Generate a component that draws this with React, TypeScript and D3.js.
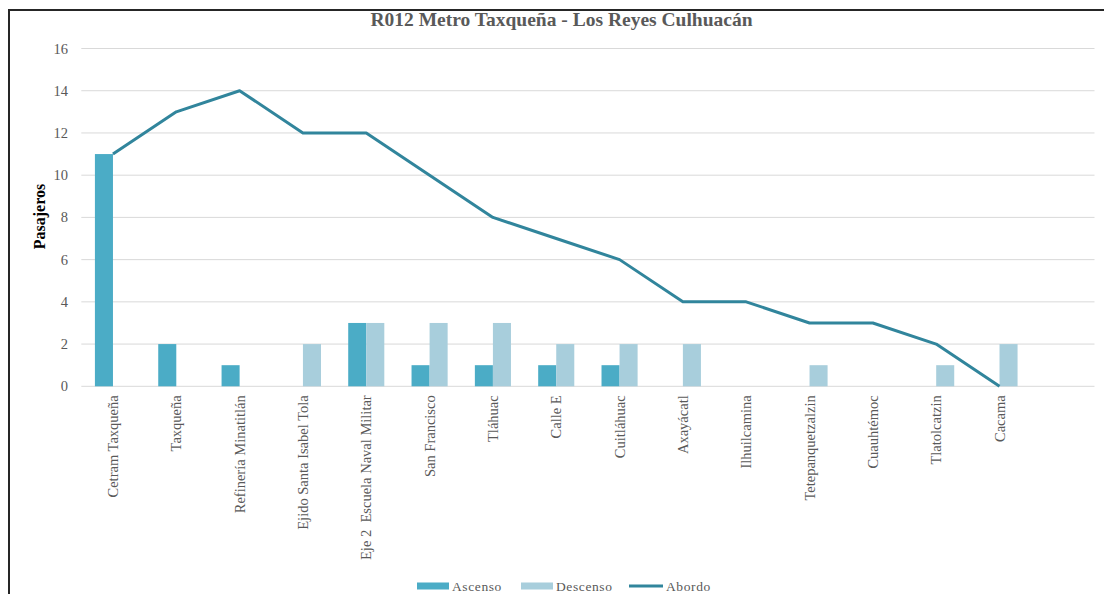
import { useEffect, useRef } from 'react'
import * as d3 from 'd3'

const categories = [
  'Cetram Taxqueña',
  'Taxqueña',
  'Refinería Minatitlán',
  'Ejido Santa Isabel Tola',
  'Eje 2  Escuela Naval Militar',
  'San Francisco',
  'Tláhuac',
  'Calle E',
  'Cuitláhuac',
  'Axayácatl',
  'Ilhuilcamina',
  'Tetepanquetzalzin',
  'Cuauhtémoc',
  'Tlatolcatzin',
  'Cacama'
]
const ascenso = [11, 2, 1, 0, 3, 1, 1, 1, 1, 0, 0, 0, 0, 0, 0]
const descenso = [0, 0, 0, 2, 3, 3, 3, 2, 2, 2, 0, 1, 0, 1, 2]
const abordo = [11, 13, 14, 12, 12, 10, 8, 7, 6, 4, 4, 3, 3, 2, 0]
const yTicks = [0, 2, 4, 6, 8, 10, 12, 14, 16]

const title = 'R012 Metro Taxqueña - Los Reyes Culhuacán'
const seriesNames = ['Ascenso', 'Descenso']
const colors = { Ascenso: '#4BACC6', Descenso: '#A8CEDC', Abordo: '#31859C' }

const App = () => {
  const svgRef = useRef<SVGSVGElement>(null)

  useEffect(() => {
    const W = 1104
    const H = 594
    const left = 81.3
    const right = 1094.5
    const top = 48.5
    const bottom = 386.3
    const font = '"Liberation Serif", "Times New Roman", serif'

    const root = d3.select(svgRef.current)
    root.selectAll('*').remove()
    const svg = root.attr('width', W).attr('height', H)

    svg.append('rect').attr('width', W).attr('height', H).attr('fill', '#fff')
    // frame
    svg.append('rect')
      .attr('x', 9).attr('y', 10)
      .attr('width', W + 20).attr('height', H + 20)
      .attr('fill', 'none').attr('stroke', '#262626').attr('stroke-width', 2)

    // excel chart has one trailing empty slot
    const x = d3.scaleBand<string>()
      .domain([...categories, ''])
      .range([left, right])
      .paddingInner(0.43)
      .paddingOuter(0.215)

    const xs = d3.scaleBand<string>()
      .domain(seriesNames)
      .range([0, x.bandwidth()])

    const y = d3.scaleLinear().domain([0, 16]).range([bottom, top])

    // grid
    svg.append('g')
      .selectAll('line')
      .data(yTicks)
      .enter()
      .append('line')
      .attr('x1', left).attr('x2', right)
      .attr('y1', d => y(d)).attr('y2', d => y(d))
      .attr('stroke', '#D9D9D9').attr('stroke-width', 1)

    // y tick labels
    svg.append('g')
      .selectAll('text')
      .data(yTicks)
      .enter()
      .append('text')
      .attr('x', 68)
      .attr('y', d => y(d) + 5)
      .attr('text-anchor', 'end')
      .attr('font-family', font)
      .attr('font-size', 14.5)
      .attr('fill', '#595959')
      .text(d => d)

    // bars
    const rows = categories.map((c, i) => ({ c, Ascenso: ascenso[i], Descenso: descenso[i] }))
    seriesNames.forEach(s => {
      svg.append('g')
        .selectAll('rect')
        .data(rows.filter(r => r[s] > 0))
        .enter()
        .append('rect')
        .attr('x', d => x(d.c)! + xs(s)!)
        .attr('y', d => y(d[s]))
        .attr('width', xs.bandwidth())
        .attr('height', d => y(0) - y(d[s]))
        .attr('fill', colors[s])
    })

    // line
    const line = d3.line<number>()
      .x((_, i) => x(categories[i])! + x.bandwidth() / 2)
      .y(d => y(d))

    svg.append('path')
      .datum(abordo)
      .attr('fill', 'none')
      .attr('stroke', colors.Abordo)
      .attr('stroke-width', 3)
      .attr('stroke-linejoin', 'round')
      .attr('d', line)

    // x labels
    svg.append('g')
      .selectAll('text')
      .data(categories)
      .enter()
      .append('text')
      .attr('transform', d => `translate(${x(d)! + x.bandwidth() / 2 + 5},${bottom + 9}) rotate(-90)`)
      .attr('text-anchor', 'end')
      .attr('font-family', font)
      .attr('font-size', 14.5)
      .attr('fill', '#595959')
      .style('white-space', 'pre')
      .text(d => d)

    // title
    svg.append('text')
      .attr('x', 561.5)
      .attr('y', 25.5)
      .attr('text-anchor', 'middle')
      .attr('font-family', font)
      .attr('font-size', 19.5)
      .attr('font-weight', 'bold')
      .attr('fill', '#595959')
      .text(title)

    // y axis title
    svg.append('text')
      .attr('transform', 'translate(44.5,216.5) rotate(-90)')
      .attr('text-anchor', 'middle')
      .attr('font-family', font)
      .attr('font-size', 16)
      .attr('font-weight', 'bold')
      .attr('fill', '#000')
      .text('Pasajeros')

    // legend
    const legend = [
      { name: 'Ascenso', x: 417, type: 'bar' },
      { name: 'Descenso', x: 521, type: 'bar' },
      { name: 'Abordo', x: 629, type: 'line' }
    ]
    const lg = svg.append('g')
    legend.forEach(l => {
      if (l.type === 'bar') {
        lg.append('rect')
          .attr('x', l.x).attr('y', 582.5)
          .attr('width', 32).attr('height', 7)
          .attr('fill', colors[l.name])
      } else {
        lg.append('line')
          .attr('x1', l.x).attr('x2', l.x + 34)
          .attr('y1', 586).attr('y2', 586)
          .attr('stroke', colors.Abordo).attr('stroke-width', 3)
      }
      lg.append('text')
        .attr('x', l.x + (l.type === 'bar' ? 35 : 37))
        .attr('y', 590.5)
        .attr('font-family', font)
        .attr('font-size', 13.5)
        .attr('letter-spacing', 0.6)
        .attr('fill', '#595959')
        .text(l.name)
    })
  }, [])

  return (
    <svg ref={svgRef} style={{ position: 'absolute', left: 0, top: 0, display: 'block' }}></svg>
  )
}

export default App
